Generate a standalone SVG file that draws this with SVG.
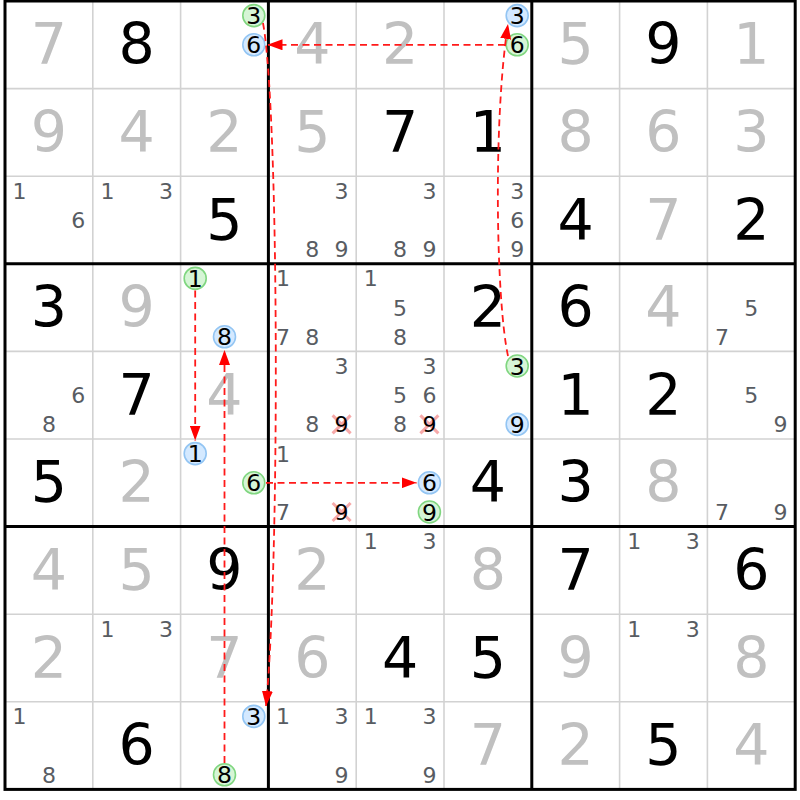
<svg xmlns="http://www.w3.org/2000/svg" width="800" height="800" viewBox="0 0 800 800">
<style>
text{font-family:"DejaVu Sans","Verdana",sans-serif;text-anchor:middle}
.b{font-size:57px;fill:#000}
.s{font-size:57px;fill:#c0c0c0}
.c{font-size:22px;fill:#585c62}
.k{font-size:23.5px;fill:#000}
.gc{fill:#d6f5d6;stroke:#80d680;stroke-width:1.6}
.bc{fill:#d4e9ff;stroke:#93c5f3;stroke-width:1.6}
.x{stroke:#f07070;stroke-opacity:0.6;stroke-width:3;fill:none}
.thin{stroke:#d2d2d2;stroke-width:1.6}
.thick{stroke:#000;stroke-width:3}
.arr{stroke:#ff1a1a;stroke-width:1.8;stroke-dasharray:7 4.5;fill:none;marker-end:url(#ah)}
</style>
<defs>
<marker id="ah" markerUnits="userSpaceOnUse" markerWidth="16" markerHeight="11" refX="15" refY="5.5" orient="auto">
<path d="M0,0 L15,5.5 L0,11 z" fill="#ff0000"/>
</marker>
</defs>
<rect x="0" y="0" width="800" height="800" fill="#fff"/>
<g id="grid">
<g class="thin">
<line x1="92.8" y1="1" x2="92.8" y2="789.4"/><line x1="180.6" y1="1" x2="180.6" y2="789.4"/>
<line x1="356.2" y1="1" x2="356.2" y2="789.4"/><line x1="444" y1="1" x2="444" y2="789.4"/>
<line x1="619.6" y1="1" x2="619.6" y2="789.4"/><line x1="707.4" y1="1" x2="707.4" y2="789.4"/>
<line x1="5" y1="88.6" x2="795.2" y2="88.6"/><line x1="5" y1="176.2" x2="795.2" y2="176.2"/>
<line x1="5" y1="351.4" x2="795.2" y2="351.4"/><line x1="5" y1="439" x2="795.2" y2="439"/>
<line x1="5" y1="614.2" x2="795.2" y2="614.2"/><line x1="5" y1="701.8" x2="795.2" y2="701.8"/>
</g>
<g class="thick">
<line x1="268.4" y1="1" x2="268.4" y2="789.4"/><line x1="531.8" y1="1" x2="531.8" y2="789.4"/>
<line x1="5" y1="263.8" x2="795.2" y2="263.8"/><line x1="5" y1="526.6" x2="795.2" y2="526.6"/>
<rect x="5" y="1" width="790.2" height="788.4" fill="none"/>
</g>
</g>
<!-- row 0 -->
<g id="r0c0"><text class="s" x="48.9" y="64.3">7</text></g>
<g id="r0c1"><text class="b" x="136.7" y="64.3">8</text></g>
<g id="r0c2"><circle class="gc" cx="253.8" cy="15.6" r="11"/><text class="k" x="253.8" y="24.2">3</text><circle class="bc" cx="253.8" cy="44.8" r="11"/><text class="k" x="253.8" y="53.4">6</text></g>
<g id="r0c3"><text class="s" x="312.3" y="64.3">4</text></g>
<g id="r0c4"><text class="s" x="400.1" y="64.3">2</text></g>
<g id="r0c5"><circle class="bc" cx="517.2" cy="15.6" r="11"/><text class="k" x="517.2" y="24.2">3</text><circle class="gc" cx="517.2" cy="44.8" r="11"/><text class="k" x="517.2" y="53.4">6</text></g>
<g id="r0c6"><text class="s" x="575.7" y="64.3">5</text></g>
<g id="r0c7"><text class="b" x="663.5" y="64.3">9</text></g>
<g id="r0c8"><text class="s" x="751.3" y="64.3">1</text></g>
<!-- row 1 -->
<g id="r1c0"><text class="s" x="48.9" y="151.9">9</text></g>
<g id="r1c1"><text class="s" x="136.7" y="151.9">4</text></g>
<g id="r1c2"><text class="s" x="224.5" y="151.9">2</text></g>
<g id="r1c3"><text class="s" x="312.3" y="151.9">5</text></g>
<g id="r1c4"><text class="b" x="400.1" y="151.9">7</text></g>
<g id="r1c5"><text class="b" x="487.9" y="151.9">1</text></g>
<g id="r1c6"><text class="s" x="575.7" y="151.9">8</text></g>
<g id="r1c7"><text class="s" x="663.5" y="151.9">6</text></g>
<g id="r1c8"><text class="s" x="751.3" y="151.9">3</text></g>
<!-- row 2 -->
<g id="r2c0"><text class="c" x="19.6" y="198.8">1</text><text class="c" x="78.2" y="228">6</text></g>
<g id="r2c1"><text class="c" x="107.4" y="198.8">1</text><text class="c" x="166" y="198.8">3</text></g>
<g id="r2c2"><text class="b" x="224.5" y="239.5">5</text></g>
<g id="r2c3"><text class="c" x="341.6" y="198.8">3</text><text class="c" x="312.3" y="257.2">8</text><text class="c" x="341.6" y="257.2">9</text></g>
<g id="r2c4"><text class="c" x="429.4" y="198.8">3</text><text class="c" x="400.1" y="257.2">8</text><text class="c" x="429.4" y="257.2">9</text></g>
<g id="r2c5"><text class="c" x="517.2" y="198.8">3</text><text class="c" x="517.2" y="228">6</text><text class="c" x="517.2" y="257.2">9</text></g>
<g id="r2c6"><text class="b" x="575.7" y="239.5">4</text></g>
<g id="r2c7"><text class="s" x="663.5" y="239.5">7</text></g>
<g id="r2c8"><text class="b" x="751.3" y="239.5">2</text></g>
<!-- row 3 -->
<g id="r3c0"><text class="b" x="48.9" y="327.1">3</text></g>
<g id="r3c1"><text class="s" x="136.7" y="327.1">9</text></g>
<g id="r3c2"><circle class="gc" cx="195.2" cy="278.4" r="11"/><text class="k" x="195.2" y="287">1</text><circle class="bc" cx="224.5" cy="336.8" r="11"/><text class="k" x="224.5" y="345.4">8</text></g>
<g id="r3c3"><text class="c" x="283" y="286.4">1</text><text class="c" x="283" y="344.8">7</text><text class="c" x="312.3" y="344.8">8</text></g>
<g id="r3c4"><text class="c" x="370.8" y="286.4">1</text><text class="c" x="400.1" y="315.6">5</text><text class="c" x="400.1" y="344.8">8</text></g>
<g id="r3c5"><text class="b" x="487.9" y="327.1">2</text></g>
<g id="r3c6"><text class="b" x="575.7" y="327.1">6</text></g>
<g id="r3c7"><text class="s" x="663.5" y="327.1">4</text></g>
<g id="r3c8"><text class="c" x="751.3" y="315.6">5</text><text class="c" x="722" y="344.8">7</text></g>
<!-- row 4 -->
<g id="r4c0"><text class="c" x="78.2" y="403.2">6</text><text class="c" x="48.9" y="432.4">8</text></g>
<g id="r4c1"><text class="b" x="136.7" y="414.7">7</text></g>
<g id="r4c2"><text class="s" x="224.5" y="414.7">4</text></g>
<g id="r4c3"><text class="c" x="341.6" y="374">3</text><text class="c" x="312.3" y="432.4">8</text><path class="x" d="M332.6,415.4 L350.6,433.4 M350.6,415.4 L332.6,433.4"/><text class="k" x="341.6" y="432.4" style="font-size:22px">9</text></g>
<g id="r4c4"><text class="c" x="429.4" y="374">3</text><text class="c" x="400.1" y="403.2">5</text><text class="c" x="429.4" y="403.2">6</text><text class="c" x="400.1" y="432.4">8</text><path class="x" d="M420.4,415.4 L438.4,433.4 M438.4,415.4 L420.4,433.4"/><text class="k" x="429.4" y="432.4" style="font-size:22px">9</text></g>
<g id="r4c5"><circle class="gc" cx="517.2" cy="366" r="11"/><text class="k" x="517.2" y="374.6">3</text><circle class="bc" cx="517.2" cy="424.4" r="11"/><text class="k" x="517.2" y="433">9</text></g>
<g id="r4c6"><text class="b" x="575.7" y="414.7">1</text></g>
<g id="r4c7"><text class="b" x="663.5" y="414.7">2</text></g>
<g id="r4c8"><text class="c" x="751.3" y="403.2">5</text><text class="c" x="780.6" y="432.4">9</text></g>
<!-- row 5 -->
<g id="r5c0"><text class="b" x="48.9" y="502.3">5</text></g>
<g id="r5c1"><text class="s" x="136.7" y="502.3">2</text></g>
<g id="r5c2"><circle class="bc" cx="195.2" cy="453.6" r="11"/><text class="k" x="195.2" y="462.2">1</text><circle class="gc" cx="253.8" cy="482.8" r="11"/><text class="k" x="253.8" y="491.4">6</text></g>
<g id="r5c3"><text class="c" x="283" y="461.6">1</text><text class="c" x="283" y="520">7</text><path class="x" d="M332.6,503 L350.6,521 M350.6,503 L332.6,521"/><text class="k" x="341.6" y="520" style="font-size:22px">9</text></g>
<g id="r5c4"><circle class="bc" cx="429.4" cy="482.8" r="11"/><text class="k" x="429.4" y="491.4">6</text><circle class="gc" cx="429.4" cy="512" r="11"/><text class="k" x="429.4" y="520.6">9</text></g>
<g id="r5c5"><text class="b" x="487.9" y="502.3">4</text></g>
<g id="r5c6"><text class="b" x="575.7" y="502.3">3</text></g>
<g id="r5c7"><text class="s" x="663.5" y="502.3">8</text></g>
<g id="r5c8"><text class="c" x="722" y="520">7</text><text class="c" x="780.6" y="520">9</text></g>
<!-- row 6 -->
<g id="r6c0"><text class="s" x="48.9" y="589.9">4</text></g>
<g id="r6c1"><text class="s" x="136.7" y="589.9">5</text></g>
<g id="r6c2"><text class="b" x="224.5" y="589.9">9</text></g>
<g id="r6c3"><text class="s" x="312.3" y="589.9">2</text></g>
<g id="r6c4"><text class="c" x="370.8" y="549.2">1</text><text class="c" x="429.4" y="549.2">3</text></g>
<g id="r6c5"><text class="s" x="487.9" y="589.9">8</text></g>
<g id="r6c6"><text class="b" x="575.7" y="589.9">7</text></g>
<g id="r6c7"><text class="c" x="634.2" y="549.2">1</text><text class="c" x="692.8" y="549.2">3</text></g>
<g id="r6c8"><text class="b" x="751.3" y="589.9">6</text></g>
<!-- row 7 -->
<g id="r7c0"><text class="s" x="48.9" y="677.5">2</text></g>
<g id="r7c1"><text class="c" x="107.4" y="636.8">1</text><text class="c" x="166" y="636.8">3</text></g>
<g id="r7c2"><text class="s" x="224.5" y="677.5">7</text></g>
<g id="r7c3"><text class="s" x="312.3" y="677.5">6</text></g>
<g id="r7c4"><text class="b" x="400.1" y="677.5">4</text></g>
<g id="r7c5"><text class="b" x="487.9" y="677.5">5</text></g>
<g id="r7c6"><text class="s" x="575.7" y="677.5">9</text></g>
<g id="r7c7"><text class="c" x="634.2" y="636.8">1</text><text class="c" x="692.8" y="636.8">3</text></g>
<g id="r7c8"><text class="s" x="751.3" y="677.5">8</text></g>
<!-- row 8 -->
<g id="r8c0"><text class="c" x="19.6" y="724.4">1</text><text class="c" x="48.9" y="782.8">8</text></g>
<g id="r8c1"><text class="b" x="136.7" y="765.1">6</text></g>
<g id="r8c2"><circle class="bc" cx="253.8" cy="716.4" r="11"/><text class="k" x="253.8" y="725">3</text><circle class="gc" cx="224.5" cy="774.8" r="11"/><text class="k" x="224.5" y="783.4">8</text></g>
<g id="r8c3"><text class="c" x="283" y="724.4">1</text><text class="c" x="341.6" y="724.4">3</text><text class="c" x="341.6" y="782.8">9</text></g>
<g id="r8c4"><text class="c" x="370.8" y="724.4">1</text><text class="c" x="429.4" y="724.4">3</text><text class="c" x="429.4" y="782.8">9</text></g>
<g id="r8c5"><text class="s" x="487.9" y="765.1">7</text></g>
<g id="r8c6"><text class="s" x="575.7" y="765.1">2</text></g>
<g id="r8c7"><text class="b" x="663.5" y="765.1">5</text></g>
<g id="r8c8"><text class="s" x="751.3" y="765.1">4</text></g>
<g id="connectors">
<path class="arr" d="M505,44.8 L267.5,44.8"/>
<path class="arr" d="M263,23 C279,110 280,560 266,706"/>
<path class="arr" d="M508,356 C496,300 493,120 508,24"/>
<path class="arr" d="M195.2,290.5 L195.2,440.5"/>
<path class="arr" d="M224.5,763 L224.5,350"/>
<path class="arr" d="M266,482.8 L416.5,482.8"/>
</g>
</svg>
